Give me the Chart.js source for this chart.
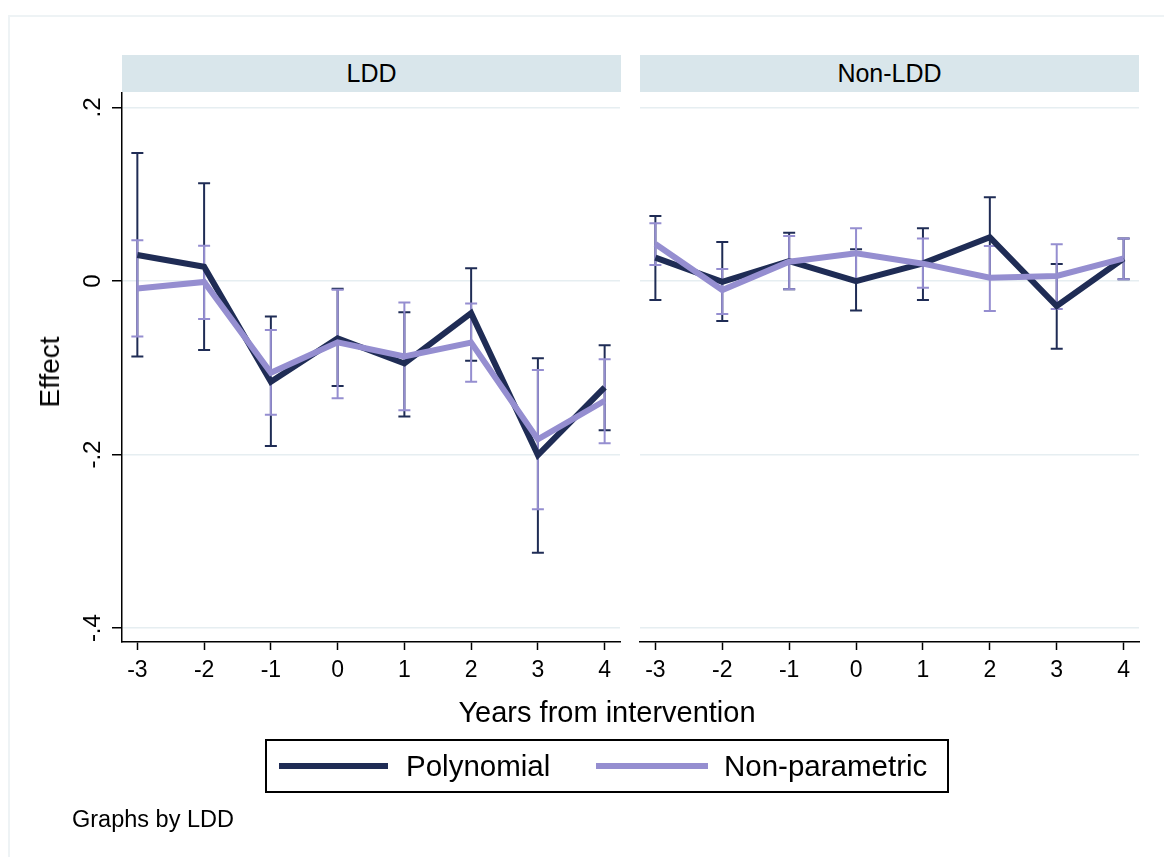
<!DOCTYPE html>
<html>
<head>
<meta charset="utf-8">
<script src="https://cdn.jsdelivr.net/npm/chart.js@4"></script>
<style>
body { margin: 0; width: 1164px; height: 857px; position: relative; background: #fff; overflow: hidden;
       font-family: "Liberation Sans", Arial, sans-serif; color: #000; }
.frame { position: absolute; left: 8px; top: 15px; width: 1200px; height: 900px; border: 2px solid #eef3f5; box-sizing: border-box; }
.strip { position: absolute; top: 55px; height: 37px; background: #d9e6eb; font-size: 25px; line-height: 37px; text-align: center; }
.panel { position: absolute; top: 0; }
.ytitle { position: absolute; left: 50px; top: 372px; font-size: 28px; transform: translate(-50%, -50%) rotate(-90deg); white-space: nowrap; }
.xtitle { position: absolute; left: 607px; top: 712px; font-size: 29px; transform: translate(-50%, -50%); white-space: nowrap; }
.legend { position: absolute; left: 265px; top: 739px; width: 684px; height: 54px; border: 2px solid #000; box-sizing: border-box; }
.legend .key { position: absolute; top: 22px; height: 6px; }
.legend .lab { position: absolute; top: 0; line-height: 50px; font-size: 29.5px; white-space: nowrap; }
.note { position: absolute; left: 72px; top: 806px; font-size: 23.5px; white-space: nowrap; }
</style>
</head>
<body>
<div class="frame"></div>
<div class="strip" style="left:122px;width:499px;">LDD</div>
<div class="strip" style="left:640px;width:499px;">Non-LDD</div>
<div class="panel" style="left:0;"><canvas id="ldd" width="630" height="857"></canvas></div>
<div class="panel" style="left:630px;"><canvas id="nonldd" width="534" height="857"></canvas></div>
<div class="ytitle">Effect</div>
<div class="xtitle">Years from intervention</div>
<div class="legend">
  <div class="key" style="left:12px;width:109px;background:#1f2c55;"></div>
  <div class="lab" style="left:139px;">Polynomial</div>
  <div class="key" style="left:329px;width:112px;background:#958ed0;"></div>
  <div class="lab" style="left:457px;">Non-parametric</div>
</div>
<div class="note">Graphs by LDD</div>

<script>
var years = [-3, -2, -1, 0, 1, 2, 3, 4];
var yTicks = [-0.4, -0.2, 0, 0.2];
var yTickLabels = ['-.4', '-.2', '0', '.2'];

// LDD panel
var lddPoly   = [0.030, 0.0165, -0.116, -0.066, -0.095, -0.037, -0.2006, -0.1226];
var lddPolyLo = [-0.087, -0.0795, -0.190, -0.121, -0.156, -0.092, -0.313, -0.172];
var lddPolyHi = [0.1475, 0.1126, -0.041, -0.009, -0.036, 0.0146, -0.089, -0.074];
var lddNp     = [-0.0085, -0.001, -0.1057, -0.0707, -0.087, -0.071, -0.1825, -0.138];
var lddNpLo   = [-0.064, -0.0438, -0.154, -0.135, -0.149, -0.116, -0.263, -0.187];
var lddNpHi   = [0.047, 0.0407, -0.0565, -0.010, -0.0246, -0.026, -0.1026, -0.090];

// Non-LDD panel
var nonPoly   = [0.0269, -0.001, 0.023, 0.000, 0.0204, 0.0504, -0.0288, 0.026];
var nonPolyLo = [-0.0219, -0.046, -0.0096, -0.034, -0.022, 0.004, -0.078, 0.002];
var nonPolyHi = [0.0749, 0.045, 0.0557, 0.0366, 0.0608, 0.0965, 0.0196, 0.049];
var nonNp     = [0.0427, -0.0104, 0.0223, 0.032, 0.020, 0.0038, 0.0058, 0.026];
var nonNpLo   = [0.0184, -0.038, -0.0096, 0.002, -0.0077, -0.0346, -0.0323, 0.002];
var nonNpHi   = [0.0665, 0.0138, 0.052, 0.0607, 0.049, 0.0403, 0.0423, 0.049];

var NAVY = '#1f2c55';
var LILAC = '#958ed0';
var FONT = '"Liberation Sans", Arial, sans-serif';

function points(vals) {
	return years.map(function (x, i) { return { x: x, y: vals[i] }; });
}

// capped range bars, drawn under the lines
function errorBars(bars) {
	return {
		id: 'errorBars',
		beforeDatasetsDraw: function (chart) {
			var ctx = chart.ctx, xs = chart.scales.x, ys = chart.scales.y;
			bars.forEach(function (b) {
				ctx.save();
				ctx.strokeStyle = b.color;
				ctx.lineWidth = 2;
				years.forEach(function (yr, i) {
					var px = xs.getPixelForValue(yr);
					var lo = ys.getPixelForValue(b.lo[i]);
					var hi = ys.getPixelForValue(b.hi[i]);
					ctx.beginPath();
					ctx.moveTo(px, lo); ctx.lineTo(px, hi);
					ctx.moveTo(px - 6, lo); ctx.lineTo(px + 6, lo);
					ctx.moveTo(px - 6, hi); ctx.lineTo(px + 6, hi);
					ctx.stroke();
				});
				ctx.restore();
			});
		}
	};
}

// vertical y tick labels on the left panel
var yLabels = {
	id: 'yLabels',
	afterDraw: function (chart) {
		var ctx = chart.ctx, ys = chart.scales.y;
		ctx.save();
		ctx.fillStyle = '#000';
		ctx.font = '24px ' + FONT;
		ctx.textAlign = 'center';
		ctx.textBaseline = 'middle';
		yTicks.forEach(function (v, i) {
			ctx.save();
			ctx.translate(93, ys.getPixelForValue(v));
			ctx.rotate(-Math.PI / 2);
			ctx.fillText(yTickLabels[i], 0, 0);
			ctx.restore();
		});
		ctx.restore();
	}
};

function makePanel(id, poly, np, bars, first, pad) {
	return new Chart(id, {
		type: 'line',
		data: {
			datasets: [{
				label: 'Non-parametric',
				data: points(np),
				borderColor: LILAC,
				borderWidth: 6,
				borderJoinStyle: 'miter',
				pointRadius: 0,
				order: 0
			}, {
				label: 'Polynomial',
				data: points(poly),
				borderColor: NAVY,
				borderWidth: 6,
				borderJoinStyle: 'miter',
				pointRadius: 0,
				order: 1
			}]
		},
		plugins: first ? [errorBars(bars), yLabels] : [errorBars(bars)],
		options: {
			responsive: false,
			animation: false,
			events: [],
			layout: { padding: pad },
			plugins: { legend: { display: false }, tooltip: { enabled: false } },
			scales: {
				x: {
					type: 'linear',
					min: -3.23,
					max: 4.23,
					afterBuildTicks: function (s) { s.ticks = years.map(function (v) { return { value: v }; }); },
					afterFit: function (s) { s.height = 45; },
					border: { display: true, color: '#000', width: 1.5 },
					grid: { drawOnChartArea: false, drawTicks: true, tickLength: 8, tickColor: '#000', tickWidth: 1.5 },
					ticks: {
						color: '#000', font: { family: FONT, size: 23 }, padding: 7,
						maxRotation: 0, autoSkip: false,
						callback: function (v) { return String(v); }
					}
				},
				y: {
					min: -0.416,
					max: 0.2167,
					afterBuildTicks: function (s) { s.ticks = yTicks.map(function (v) { return { value: v }; }); },
					afterFit: function (s) { s.width = first ? 10 : 0; },
					border: { display: first, color: '#000', width: 1.5 },
					grid: { color: '#e6eef1', lineWidth: 1.5, drawTicks: first, tickLength: 10, tickColor: '#000', tickWidth: 1.5 },
					ticks: { display: false }
				}
			}
		}
	});
}

makePanel('ldd', lddPoly, lddNp, [
	{ color: NAVY, lo: lddPolyLo, hi: lddPolyHi },
	{ color: LILAC, lo: lddNpLo, hi: lddNpHi }
], true, { left: 112, right: 10, top: 93, bottom: 170 });

makePanel('nonldd', nonPoly, nonNp, [
	{ color: NAVY, lo: nonPolyLo, hi: nonPolyHi },
	{ color: LILAC, lo: nonNpLo, hi: nonNpHi }
], false, { left: 10, right: 25, top: 93, bottom: 170 });
</script>
</body>
</html>
